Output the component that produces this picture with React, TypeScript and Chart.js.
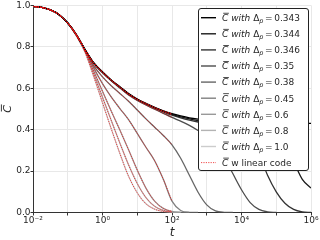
import React, { useEffect, useRef } from 'react';
import { Chart, registerables } from 'chart.js';

Chart.register(...registerables);

// log10(t) sample positions
const LOG_T = [-2, -1.75, -1.5, -1.25, -1, -0.75, -0.5, -0.25, 0, 0.25, 0.5, 0.75, 1, 1.25, 1.5, 1.75, 2, 2.25, 2.5, 2.75, 3, 3.25, 3.5, 3.75, 4, 4.25, 4.5, 4.75, 5, 5.25, 5.5, 5.75, 6];

// C-bar values for each Delta_p (same sample positions as LOG_T, curves stop once they reach 0)
const C_0343 = [0.995, 0.99, 0.978, 0.955, 0.915, 0.858, 0.786, 0.722, 0.679, 0.64, 0.607, 0.574, 0.548, 0.527, 0.508, 0.491, 0.477, 0.466, 0.457, 0.451, 0.447, 0.444, 0.442, 0.44, 0.438, 0.437, 0.436, 0.435, 0.434, 0.433, 0.432, 0.431, 0.43];
const C_0344 = [0.995, 0.99, 0.978, 0.955, 0.915, 0.858, 0.786, 0.722, 0.678, 0.639, 0.606, 0.573, 0.547, 0.525, 0.506, 0.489, 0.474, 0.462, 0.452, 0.444, 0.438, 0.435, 0.432, 0.43, 0.427, 0.424, 0.42, 0.408, 0.38, 0.325, 0.245, 0.16, 0.118];
const C_0346 = [0.995, 0.99, 0.978, 0.955, 0.915, 0.858, 0.786, 0.721, 0.677, 0.638, 0.604, 0.571, 0.545, 0.523, 0.504, 0.486, 0.47, 0.457, 0.446, 0.437, 0.43, 0.425, 0.418, 0.41, 0.395, 0.36, 0.285, 0.18, 0.1, 0.045, 0.015, 0.003, 0];
const C_035 = [0.995, 0.99, 0.978, 0.955, 0.915, 0.858, 0.786, 0.719, 0.675, 0.636, 0.601, 0.567, 0.541, 0.519, 0.499, 0.479, 0.459, 0.441, 0.421, 0.396, 0.367, 0.328, 0.267, 0.188, 0.11, 0.048, 0.015, 0.003, 0];
const C_038 = [0.995, 0.99, 0.978, 0.955, 0.915, 0.857, 0.784, 0.708, 0.655, 0.612, 0.575, 0.537, 0.495, 0.452, 0.412, 0.372, 0.327, 0.262, 0.18, 0.098, 0.037, 0.008, 0.001, 0];
const C_045 = [0.995, 0.99, 0.978, 0.955, 0.915, 0.856, 0.782, 0.697, 0.622, 0.558, 0.502, 0.448, 0.382, 0.315, 0.25, 0.16, 0.055, 0.01, 0.001, 0];
const C_06 = [0.995, 0.99, 0.978, 0.955, 0.915, 0.855, 0.779, 0.682, 0.585, 0.49, 0.398, 0.303, 0.205, 0.118, 0.055, 0.02, 0.005, 0.001, 0];
const C_08 = [0.995, 0.99, 0.978, 0.955, 0.914, 0.854, 0.776, 0.668, 0.556, 0.445, 0.335, 0.23, 0.14, 0.072, 0.03, 0.01, 0.002, 0];
const C_10 = [0.995, 0.99, 0.978, 0.955, 0.914, 0.852, 0.772, 0.655, 0.53, 0.405, 0.285, 0.175, 0.095, 0.042, 0.016, 0.005, 0.001, 0];

const DELTA_LABELS = ['0.343', '0.344', '0.346', '0.35', '0.38', '0.45', '0.6', '0.8', '1.0'];
const LINEAR_CODE_MAX_T = 100;

const X_TICK_EXPONENTS = [-2, -1, 0, 1, 2, 3, 4, 5, 6];
const X_LABEL_EXPONENTS = [-2, 0, 2, 4, 6];
const Y_TICKS = [0, 0.2, 0.4, 0.6, 0.8, 1.0];

const CURVES = [C_0343, C_0344, C_0346, C_035, C_038, C_045, C_06, C_08, C_10];
const GRAYS = ['#000000', '#1a1a1a', '#333333', '#4d4d4d', '#666666', '#808080', '#999999', '#b3b3b3', '#cccccc'];
const RED = 'rgba(235, 20, 20, 0.85)';
const TEXT = '#262626';
const FONT = '"DejaVu Sans"';

const SUP: Record<string, string> = { '-': '\u207B', '0': '\u2070', '1': '\u00B9', '2': '\u00B2', '3': '\u00B3', '4': '\u2074', '5': '\u2075', '6': '\u2076', '7': '\u2077', '8': '\u2078', '9': '\u2079' };
const sup = (n: number) => String(n).split('').map((c) => SUP[c]).join('');

function drawLegendLabel(ctx: CanvasRenderingContext2D, x: number, baseline: number, delta: string | null) {
  let cx = x;
  ctx.font = `italic 9px ${FONT}`;
  const cw = ctx.measureText('C').width;
  ctx.fillText('C', cx, baseline);
  ctx.fillRect(cx + 1.2, baseline - 8.2, cw - 0.6, 0.8);
  cx += cw + 2.9;
  if (delta !== null) {
    ctx.font = `italic 9px ${FONT}`;
    ctx.fillText('with', cx, baseline);
    cx += ctx.measureText('with').width + 2.9;
    ctx.font = `9px ${FONT}`;
    ctx.fillText('\u0394', cx, baseline);
    cx += ctx.measureText('\u0394').width;
    ctx.font = `italic 6.5px ${FONT}`;
    ctx.fillText('p', cx, baseline + 2);
    cx += ctx.measureText('p').width + 1.6;
    ctx.font = `9px ${FONT}`;
    ctx.fillText('=', cx, baseline);
    cx += ctx.measureText('=').width + 1.6;
    ctx.fillText(delta, cx, baseline);
  } else {
    ctx.font = `9px ${FONT}`;
    ctx.fillText('w linear code', cx, baseline);
  }
}

const overlayPlugin = {
  id: 'overlay',
  afterDraw(chart: any) {
    const { ctx, chartArea } = chart;
    ctx.save();
    ctx.fillStyle = TEXT;
    ctx.textBaseline = 'alphabetic';

    // x-axis title
    ctx.font = `italic 12px ${FONT}`;
    ctx.textAlign = 'center';
    ctx.fillText('t', (chartArea.left + chartArea.right) / 2, chart.height - 4.5);

    // y-axis title (C-bar, rotated)
    ctx.save();
    ctx.translate(10.5, (chartArea.top + chartArea.bottom) / 2);
    ctx.rotate(-Math.PI / 2);
    ctx.font = `italic 11px ${FONT}`;
    const yw = ctx.measureText('C').width;
    ctx.fillText('C', 0, 0);
    ctx.fillRect(-yw / 2 + 1.3, -9.6, yw - 0.6, 0.9);
    ctx.restore();

    // legend
    const right = chartArea.right - 3.5;
    const left = right - 110;
    const top = chartArea.top + 3;
    const rowH = 16.1;
    const rows = CURVES.length + 1;
    const bottom = top + rowH * rows + 1;
    ctx.beginPath();
    ctx.roundRect(Math.round(left) + 0.5, Math.round(top) + 0.5, Math.round(right - left), Math.round(bottom - top), 2.5);
    ctx.fillStyle = '#ffffff';
    ctx.fill();
    ctx.strokeStyle = '#222222';
    ctx.lineWidth = 1;
    ctx.stroke();

    ctx.textAlign = 'left';
    for (let i = 0; i < rows; i++) {
      const cy = top + 9.3 + i * rowH;
      ctx.beginPath();
      ctx.moveTo(left + 3.5, cy);
      ctx.lineTo(left + 18.5, cy);
      if (i < CURVES.length) {
        ctx.strokeStyle = GRAYS[i];
        ctx.lineWidth = 1.4;
        ctx.setLineDash([]);
      } else {
        ctx.strokeStyle = RED;
        ctx.lineWidth = 0.9;
        ctx.setLineDash([1.2, 1.2]);
      }
      ctx.stroke();
      ctx.setLineDash([]);
      ctx.fillStyle = TEXT;
      drawLegendLabel(ctx, left + 24.5, cy + 3.3, i < CURVES.length ? DELTA_LABELS[i] : null);
    }
    ctx.restore();
  },
};

export default function App() {
  const ref = useRef<HTMLCanvasElement | null>(null);

  useEffect(() => {
    if (!ref.current) return;
    const toPoints = (arr: number[]) => arr.map((v, j) => ({ x: Math.pow(10, LOG_T[j]), y: v }));

    const redSets = CURVES.map((arr) => ({
      data: toPoints(arr).filter((p) => p.x <= LINEAR_CODE_MAX_T * 1.0001),
      borderColor: RED,
      borderWidth: 0.9,
      borderDash: [1.2, 1.2],
      pointRadius: 0,
      fill: false,
      cubicInterpolationMode: 'monotone' as const,
    }));
    const graySets = CURVES.map((arr, i) => ({
      data: toPoints(arr),
      borderColor: GRAYS[i],
      borderWidth: 1.3,
      pointRadius: 0,
      fill: false,
      cubicInterpolationMode: 'monotone' as const,
    }));

    const chart = new Chart(ref.current, {
      type: 'line',
      data: { datasets: [...redSets, ...graySets] as any },
      options: {
        animation: false,
        responsive: false,
        maintainAspectRatio: false,
        devicePixelRatio: 1,
        events: [],
        layout: { padding: { left: 0, right: 9, top: 5, bottom: 0 } },
        plugins: { legend: { display: false }, tooltip: { enabled: false }, title: { display: false } },
        scales: {
          x: {
            type: 'logarithmic',
            min: 0.01,
            max: 1e6,
            afterBuildTicks: (s: any) => {
              s.ticks = X_TICK_EXPONENTS.map((e) => ({ value: Math.pow(10, e) }));
            },
            afterFit: (s: any) => {
              s.height = 27.5;
            },
            ticks: {
              autoSkip: false,
              maxRotation: 0,
              minRotation: 0,
              padding: 0,
              color: TEXT,
              font: { family: 'DejaVu Sans', size: 9 },
              callback: (v: any) => {
                const e = Math.round(Math.log10(Number(v)));
                return X_LABEL_EXPONENTS.includes(e) ? '10' + sup(e) : '';
              },
            },
            grid: { color: '#e8e8e8', lineWidth: 1, tickColor: '#333333', tickLength: 3 },
            border: { color: '#333333', width: 1 },
          },
          y: {
            type: 'linear',
            min: 0,
            max: 1,
            afterBuildTicks: (s: any) => {
              s.ticks = Y_TICKS.map((v) => ({ value: v }));
            },
            afterFit: (s: any) => {
              s.width = 33;
            },
            ticks: {
              padding: 0,
              color: TEXT,
              font: { family: 'DejaVu Sans', size: 9 },
              callback: (v: any) => Number(v).toFixed(1),
            },
            grid: { color: '#e8e8e8', lineWidth: 1, tickColor: '#333333', tickLength: 2.5 },
            border: { color: '#333333', width: 1 },
          },
        },
      } as any,
      plugins: [overlayPlugin],
    });
    return () => chart.destroy();
  }, []);

  return (
    <div style={{ position: 'absolute', left: 0, top: 0, width: 320, height: 240, background: '#fff' }}>
      <canvas ref={ref} width={320} height={240} style={{ display: 'block', width: 320, height: 240 }} />
    </div>
  );
}
